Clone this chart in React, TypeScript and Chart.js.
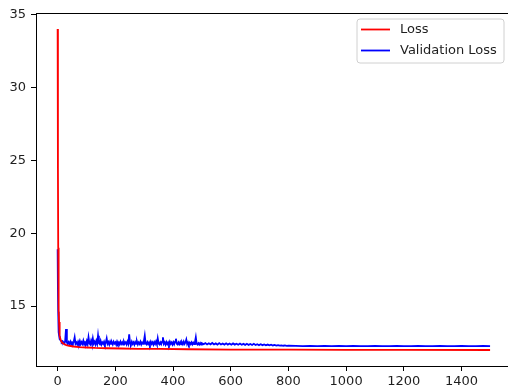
import React, { useEffect, useRef } from "react";
import { Chart, registerables } from "chart.js";

Chart.register(...registerables);

// Training loss per epoch
const lossEpochs = [0, 1, 2, 3, 4, 5, 6, 8, 10, 13, 17, 22, 30, 40, 55, 75, 100, 130, 170, 220, 280, 350, 450, 600, 800, 1000, 1200, 1499];
const lossValues = [34.02, 24.5, 19.0, 16.2, 14.7, 13.9, 13.4, 12.95, 12.72, 12.56, 12.46, 12.39, 12.32, 12.27, 12.22, 12.18, 12.15, 12.12, 12.1, 12.08, 12.06, 12.05, 12.03, 12.01, 12.0, 11.99, 11.985, 11.98];

// Validation loss per epoch
const valEpochs = [
  0, 1, 2, 3, 4, 5, 6, 8, 10, 12, 14, 17,
  20, 23, 26, 29, 32, 35, 38, 41, 44, 47,
  50, 53, 56, 59, 62, 65, 68, 71, 74, 77,
  80, 83, 86, 89, 92, 95, 98, 101, 104, 107,
  110, 113, 116, 119, 122, 125, 128, 131, 134, 137,
  140, 143, 146, 149, 152, 155, 158, 161, 164, 167,
  170, 173, 176, 179, 182, 185, 188, 191, 194, 197,
  200, 203, 206, 209, 212, 215, 218, 221, 224, 227,
  230, 233, 236, 239, 242, 245, 248, 251, 254, 257,
  260, 263, 266, 269, 272, 275, 278, 281, 284, 287,
  290, 293, 296, 299, 302, 305, 308, 311, 314, 317,
  320, 323, 326, 329, 332, 335, 338, 341, 344, 347,
  350, 353, 356, 359, 362, 365, 368, 371, 374, 377,
  380, 383, 386, 389, 392, 395, 398, 401, 404, 407,
  410, 413, 416, 419, 422, 425, 428, 431, 434, 437,
  440, 443, 446, 449, 452, 455, 458, 461, 464, 467,
  470, 473, 476, 479, 482, 485, 488, 491, 494, 497,
  500, 506, 512, 518, 524, 530, 536, 542, 548, 554,
  560, 566, 572, 578, 584, 590, 596, 602, 608, 614,
  620, 626, 632, 638, 644, 650, 656, 662, 668, 674,
  680, 686, 692, 698, 704, 710, 716, 722, 728, 734,
  740, 746, 752, 758, 764, 770, 776, 782, 788, 794,
  800, 825, 850, 875, 900, 925, 950, 975, 1000, 1025,
  1050, 1075, 1100, 1125, 1150, 1175, 1200, 1225, 1250, 1275,
  1300, 1325, 1350, 1375, 1400, 1425, 1450, 1475, 1499,
];
const valValues = [
  18.9, 16.2, 14.6, 13.7, 13.2, 12.98, 12.85, 12.72, 12.65, 12.6, 12.52, 12.58,
  12.5, 12.42, 12.58, 13.42, 12.5, 12.38, 12.52, 12.4, 12.55, 12.36,
  12.5, 12.42, 12.56, 12.85, 12.4, 12.5, 12.36, 12.55, 12.4, 12.6,
  12.38, 12.52, 12.4, 12.62, 12.36, 12.5, 12.42, 12.6, 12.38, 12.85,
  12.45, 12.36, 12.62, 12.4, 12.77, 12.42, 12.55, 12.36, 12.6, 12.4,
  12.96, 12.45, 12.38, 12.6, 12.36, 12.5, 12.4, 12.55, 12.36, 12.5,
  12.77, 12.4, 12.52, 12.35, 12.55, 12.4, 12.5, 12.36, 12.55, 12.42,
  12.5, 12.35, 12.56, 12.4, 12.5, 12.36, 12.55, 12.4, 12.5, 12.35,
  12.55, 12.42, 12.5, 12.36, 12.55, 12.4, 13.06, 12.42, 12.36, 12.55,
  12.4, 12.5, 12.35, 12.52, 12.4, 12.56, 12.36, 12.5, 12.4, 12.55,
  12.36, 12.5, 12.4, 12.6, 12.96, 12.42, 12.36, 12.52, 12.38, 12.5,
  12.35, 12.55, 12.4, 12.5, 12.35, 12.52, 12.4, 12.56, 12.38, 12.77,
  12.42, 12.36, 12.5, 12.38, 12.55, 12.85, 12.4, 12.5, 12.35, 12.52,
  12.38, 12.5, 12.35, 12.55, 12.4, 12.5, 12.36, 12.52, 12.38, 12.55,
  12.75, 12.4, 12.35, 12.5, 12.38, 12.52, 12.36, 12.5, 12.38, 12.55,
  12.4, 12.5, 12.7, 12.38, 12.5, 12.35, 12.48, 12.38, 12.5, 12.36,
  12.48, 12.38, 12.52, 12.85, 12.4, 12.35, 12.45, 12.36, 12.46, 12.35,
  12.44, 12.38, 12.45, 12.36, 12.44, 12.37, 12.46, 12.36, 12.43, 12.35,
  12.45, 12.36, 12.42, 12.35, 12.44, 12.35, 12.42, 12.34, 12.43, 12.35,
  12.41, 12.34, 12.42, 12.34, 12.4, 12.33, 12.41, 12.33, 12.39, 12.32,
  12.4, 12.32, 12.38, 12.31, 12.37, 12.31, 12.36, 12.3, 12.35, 12.3,
  12.34, 12.29, 12.33, 12.28, 12.31, 12.28, 12.3, 12.27, 12.29, 12.26,
  12.27, 12.26, 12.25, 12.26, 12.25, 12.26, 12.25, 12.26, 12.25, 12.26,
  12.25, 12.25, 12.26, 12.25, 12.25, 12.26, 12.25, 12.25, 12.26, 12.25,
  12.25, 12.26, 12.25, 12.25, 12.26, 12.25, 12.25, 12.26, 12.25,
];

const xTicks = [0, 200, 400, 600, 800, 1000, 1200, 1400];
const yTicks = [15, 20, 25, 30, 35];

const FONT = { family: "'DejaVu Sans', sans-serif", size: 13 };
const TEXT = "#1f1f1f";

// matplotlib-style frame top line and boxed legend
const framePlugin = {
  id: "frame",
  afterDatasetsDraw(chart: any) {
    const { ctx, chartArea } = chart;
    ctx.save();
    ctx.strokeStyle = "#000";
    ctx.lineWidth = 1;
    ctx.beginPath();
    ctx.moveTo(chartArea.left, chartArea.top + 0.5);
    ctx.lineTo(chartArea.right, chartArea.top + 0.5);
    ctx.moveTo(chartArea.right - 0.5, chartArea.top);
    ctx.lineTo(chartArea.right - 0.5, chartArea.bottom);
    ctx.stroke();

    // legend box
    const bw = 147;
    const bh = 44;
    const bx = chartArea.right - 8 - bw;
    const by = chartArea.top + 6;
    const r = 3;
    ctx.beginPath();
    ctx.moveTo(bx + r, by);
    ctx.lineTo(bx + bw - r, by);
    ctx.quadraticCurveTo(bx + bw, by, bx + bw, by + r);
    ctx.lineTo(bx + bw, by + bh - r);
    ctx.quadraticCurveTo(bx + bw, by + bh, bx + bw - r, by + bh);
    ctx.lineTo(bx + r, by + bh);
    ctx.quadraticCurveTo(bx, by + bh, bx, by + bh - r);
    ctx.lineTo(bx, by + r);
    ctx.quadraticCurveTo(bx, by, bx + r, by);
    ctx.closePath();
    ctx.fillStyle = "rgba(255,255,255,0.8)";
    ctx.fill();
    ctx.strokeStyle = "#d0d0d0";
    ctx.lineWidth = 1;
    ctx.stroke();

    ctx.font = `${FONT.size}px ${FONT.family}`;
    ctx.textBaseline = "middle";
    ctx.textAlign = "left";
    chart.data.datasets.forEach((ds: any, i: number) => {
      const y = by + 10.5 + i * 21;
      ctx.strokeStyle = ds.borderColor;
      ctx.lineWidth = 1.8;
      ctx.beginPath();
      ctx.moveTo(bx + 4, y);
      ctx.lineTo(bx + 33, y);
      ctx.stroke();
      ctx.fillStyle = TEXT;
      ctx.fillText(ds.label, bx + 43, y);
    });
    ctx.restore();
  },
};

export default function App() {
  const canvasRef = useRef<HTMLCanvasElement | null>(null);

  useEffect(() => {
    const canvas = canvasRef.current;
    if (!canvas) return;
    const chart = new Chart(canvas, {
      type: "line",
      data: {
        datasets: [
          {
            label: "Loss",
            data: lossEpochs.map((e, i) => ({ x: e, y: lossValues[i] })),
            borderColor: "#ff0000",
            backgroundColor: "#ff0000",
            borderWidth: 1.8,
            pointRadius: 0,
            tension: 0,
          },
          {
            label: "Validation Loss",
            data: valEpochs.map((e, i) => ({ x: e, y: valValues[i] })),
            borderColor: "#0000ff",
            backgroundColor: "#0000ff",
            borderWidth: 1.8,
            pointRadius: 0,
            tension: 0,
          },
        ],
      },
      options: {
        responsive: false,
        animation: false,
        layout: { padding: { top: 13, right: 4, left: 0, bottom: 0 } },
        plugins: { legend: { display: false }, tooltip: { enabled: false } },
        scales: {
          x: {
            type: "linear",
            min: -75,
            max: 1575,
            afterBuildTicks: (s: any) => {
              s.ticks = xTicks.map((v) => ({ value: v }));
            },
            afterFit: (s: any) => {
              s.height = 26;
            },
            grid: { drawOnChartArea: false, tickLength: 5, color: "#000", tickWidth: 1 },
            border: { display: true, color: "#000", width: 1 },
            ticks: {
              font: FONT,
              color: TEXT,
              padding: 3,
              maxRotation: 0,
              autoSkip: false,
              callback: (v: any) => String(v),
            },
          },
          y: {
            type: "linear",
            min: 10.88,
            max: 35.12,
            afterBuildTicks: (s: any) => {
              s.ticks = yTicks.map((v) => ({ value: v }));
            },
            afterFit: (s: any) => {
              s.width = 36;
            },
            grid: { drawOnChartArea: false, tickLength: 5, color: "#000", tickWidth: 1 },
            border: { display: true, color: "#000", width: 1 },
            ticks: { font: FONT, color: TEXT, padding: 5, autoSkip: false, callback: (v: any) => String(v) },
          },
        },
      },
      plugins: [framePlugin],
    });
    return () => chart.destroy();
  }, []);

  return (
    <div
      style={{
        position: "fixed",
        left: 0,
        top: 0,
        width: 508,
        height: 392,
        overflow: "hidden",
        background: "#fff",
      }}
    >
      <canvas ref={canvasRef} width={516} height={392} style={{ width: 516, height: 392, display: "block" }} />
    </div>
  );
}
